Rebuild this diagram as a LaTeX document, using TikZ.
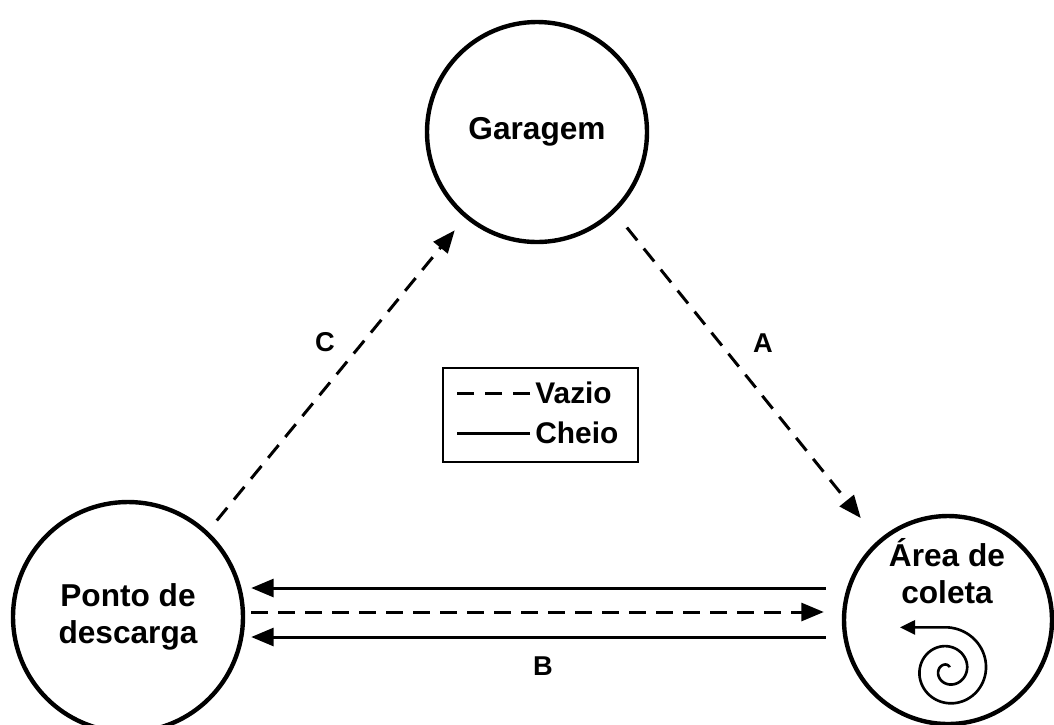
\documentclass[tikz,border=0pt]{standalone}
\usepackage{fontspec}
\setmainfont{Liberation Sans}
\usetikzlibrary{arrows.meta}
\tikzset{
  station/.style={draw,circle,line width=2.5pt,inner sep=0pt,align=center,font=\bfseries\fontsize{18}{21}\selectfont},
  emptyarrow/.style={line width=1.7pt,dash pattern=on 0.33cm off 0.21cm,-{Triangle[length=0.45cm,width=0.36cm]}},
  fullarrow/.style={line width=1.7pt,-{Triangle[length=0.45cm,width=0.36cm]}},
  tag/.style={font=\bfseries\fontsize{15.5}{18}\selectfont},
  keytext/.style={anchor=west,inner sep=0pt,font=\bfseries\fontsize{17}{20}\selectfont}
}
\begin{document}
\begin{tikzpicture}
        \useasboundingbox (0,0) rectangle (21.08,-14.48);
        %% stations
        \node[station,minimum size=4.4cm] (garage) at (10.74,-2.64) {Garagem};
        \node[station,minimum size=4.6cm] (dump) at (2.56,-12.34) {Ponto de\\descarga};
        \node[station,minimum size=4.16cm] (area) at (18.96,-12.40) {};
        \node[station,draw=none,minimum size=0pt] (areatext) at (18.94,-11.42) {Área de\\coleta};
        %% trips A and C
        \draw[emptyarrow,shorten <=0.38cm,shorten >=0.56cm] (garage.-46) -- (area.131);
        \draw[emptyarrow,shorten <=0.28cm,shorten >=0.32cm] (dump.47) -- (garage.-130);
        \node[tag] (tagA) at (15.26,-6.86) {A};
        \node[tag] (tagC) at (6.50,-6.84) {C};
        %% trips B
        \coordinate (rowtop) at (0,-11.76);
        \coordinate (rowmid) at (0,-12.24);
        \coordinate (rowlow) at (0,-12.74);
        \draw[fullarrow,shorten <=0.32cm,shorten >=0.12cm] (area.west |- rowtop) -- (dump.east |- rowtop);
        \draw[emptyarrow,shorten <=0.12cm,shorten >=0.36cm] (dump.east |- rowmid) -- (area.west |- rowmid);
        \draw[fullarrow,shorten <=0.32cm,shorten >=0.12cm] (area.west |- rowlow) -- (dump.east |- rowlow);
        \node[tag] (tagB) at (10.86,-13.32) {B};
        %% collection loop
        \draw[line width=1.5pt,-{Triangle[length=0.3cm,width=0.28cm]}]
            plot[domain=60:810,samples=160,smooth,variable=\t] ({18.96+0.00105*\t*cos(\t)},{-13.40+0.00105*\t*sin(\t)}) -- ++(-0.96,0);
        %% legend
        \node[draw,line width=1.4pt,minimum width=3.9cm,minimum height=1.88cm] (key) at (10.81,-8.30) {};
        \node[keytext] (vazio) at (10.70,-7.86) {Vazio};
        \node[keytext] (cheio) at (10.70,-8.66) {Cheio};
        \draw[line width=1.7pt,dash pattern=on 0.34cm off 0.22cm] ([xshift=-0.1cm]vazio.west) -- ++(-1.46,0);
        \draw[line width=1.7pt] ([xshift=-0.1cm]cheio.west) -- ++(-1.46,0);
    \end{tikzpicture}
\end{document}
